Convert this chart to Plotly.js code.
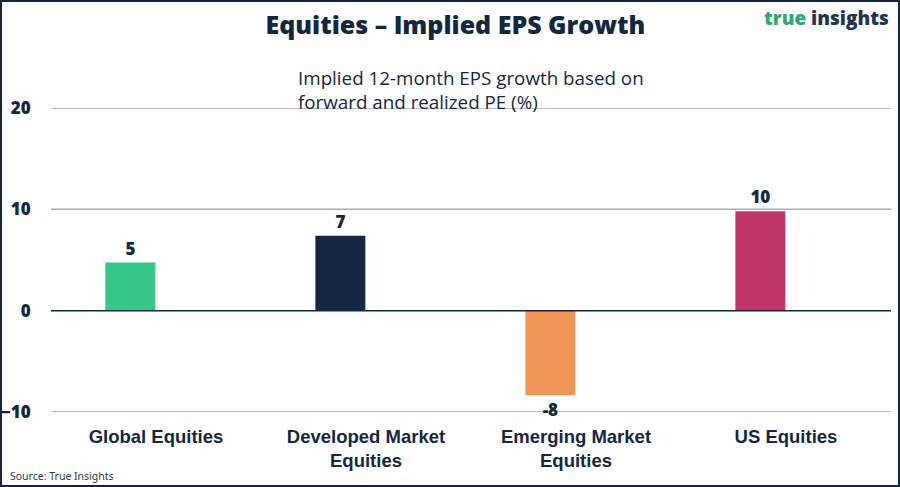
<!DOCTYPE html>
<html>
<head>
<meta charset="utf-8">
<script src="https://cdn.plot.ly/plotly-3.0.1.min.js"></script>
<style>
  html, body { margin: 0; padding: 0; background: #ffffff; }
  #chart { width: 900px; height: 487px; }
</style>
</head>
<body>
<div id="chart"></div>
<script>
// ---- Data ----
const categories = ["Global Equities", "Developed Market<br>Equities", "Emerging Market<br>Equities", "US Equities"];
const growthValues = [4.75, 7.4, -8.35, 9.8];
const barColors = ["#36C68A", "#13273F", "#EF9558", "#C03566"];
const yTickValues = [-10, 0, 10, 20];

const titleText = "Equities – Implied EPS Growth";
const subtitleText = "Implied 12-month EPS growth based on<br>forward and realized PE (%)";
const sourceText = "Source: True Insights";

// ---- Layout geometry ----
const W = 900, H = 487;
const m = { l: 51, r: 9, t: 108, b: 75 };
const pw = W - m.l - m.r, ph = H - m.t - m.b;
const px = x => (x - m.l) / pw;          // pixel -> paper x
const py = y => (H - m.b - y) / ph;      // pixel -> paper y

const navy = "#13273F";
const gridGrey = "#A4ADB8";

const trace = {
  type: "bar",
  x: categories,
  y: growthValues,
  offset: -0.241,
  width: 0.238,
  marker: { color: barColors },
  texttemplate: "%{y:.0f}",
  textposition: "outside",
  cliponaxis: false,
  textfont: { family: "Open Sans, sans-serif", size: 17, weight: 800, color: navy },
  hoverinfo: "skip"
};

// horizontal grid lines at each tick (zero line drawn in navy)
const gridShapes = yTickValues.map(v => ({
  type: "line", xref: "paper", yref: "y",
  x0: 0, x1: 1, y0: v, y1: v,
  line: { color: v === 0 ? navy : gridGrey, width: 1.5 },
  layer: v === 0 ? "above" : "below"
}));

const layout = {
  width: W, height: H,
  margin: m,
  paper_bgcolor: "#ffffff",
  plot_bgcolor: "#ffffff",
  showlegend: false,
  title: {
    text: titleText,
    font: { family: "Open Sans, sans-serif", size: 25, weight: 800, color: navy },
    x: 0.506, xanchor: "center",
    y: 1 - 25 / H, yanchor: "middle"
  },
  xaxis: {
    type: "category",
    range: [-0.5, 3.5],
    showgrid: false,
    zeroline: false,
    showline: false,
    ticks: "outside",
    ticklen: 8,
    tickcolor: "rgba(0,0,0,0)",
    tickfont: { family: "Liberation Sans, Arial, sans-serif", size: 18.5, weight: 700, color: navy },
    fixedrange: true
  },
  yaxis: {
    range: [-10, 20],
    tickvals: yTickValues,
    showgrid: false,
    zeroline: false,
    showline: false,
    ticks: "outside",
    ticklen: 16,
    tickcolor: "rgba(0,0,0,0)",
    tickfont: { family: "Open Sans, sans-serif", size: 17, weight: 800, color: navy },
    fixedrange: true
  },
  annotations: [
    {
      xref: "paper", yref: "paper",
      x: px(296), y: py(63),
      xanchor: "left", yanchor: "top", align: "left",
      text: subtitleText,
      showarrow: false,
      font: { family: "Open Sans, sans-serif", size: 18.8, color: navy }
    },
    {
      xref: "paper", yref: "paper",
      x: px(891), y: py(18),
      xanchor: "right", yanchor: "middle",
      text: "<span style='color:#34A673'>true</span> <span style='color:#1F3552'>insights</span>",
      showarrow: false,
      font: { family: "Open Sans, sans-serif", size: 19, weight: 800, color: "#1F3552" }
    },
    {
      xref: "paper", yref: "paper",
      x: px(8), y: py(476),
      xanchor: "left", yanchor: "middle",
      text: sourceText,
      showarrow: false,
      font: { family: "Noto Sans, sans-serif", size: 10.5, color: "#2B3C52" }
    }
  ],
  shapes: gridShapes.concat([
    {
      type: "rect", xref: "paper", yref: "paper",
      x0: px(1), x1: px(899), y0: py(486), y1: py(1),
      line: { color: navy, width: 2 },
      fillcolor: "rgba(0,0,0,0)",
      layer: "above"
    }
  ])
};

Plotly.newPlot("chart", [trace], layout, { displayModeBar: false, staticPlot: true });
</script>
</body>
</html>
